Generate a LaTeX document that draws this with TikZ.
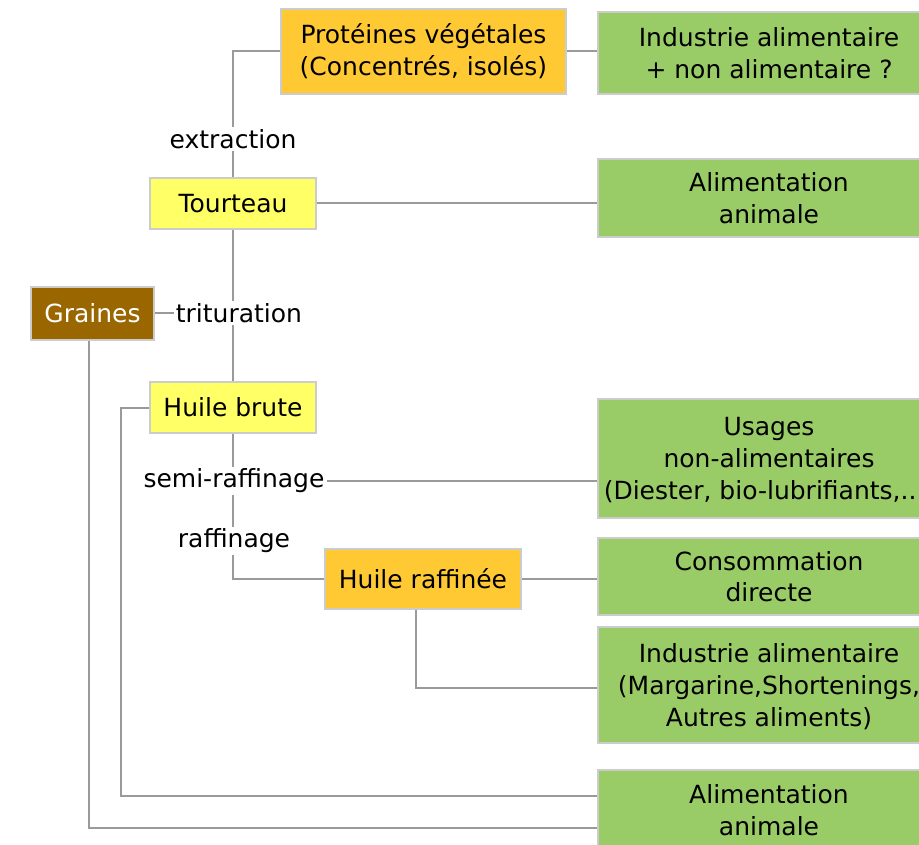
\documentclass[tikz,border=0pt]{standalone}
\usepackage{fontspec}
\setmainfont{DejaVu Sans}
\definecolor{vert}{HTML}{99CC66}
\definecolor{orange}{HTML}{FFC933}
\definecolor{jaune}{HTML}{FFFF66}
\definecolor{brun}{HTML}{996600}
\definecolor{bord}{HTML}{CCCCCC}
\definecolor{trait}{HTML}{9A9A9A}
\begin{document}
\begin{tikzpicture}[x=1pt,y=-1pt,
 boite/.style={draw=bord,line width=1.5pt,align=center,inner sep=0pt,font=\fontsize{25}{32}\selectfont},
 usage/.style={boite,fill=vert,minimum width=342,text depth=0pt},
 etape/.style={fill=white,inner sep=2pt,font=\fontsize{25}{32}\selectfont},
 lien/.style={draw=trait,line width=2pt}]
 \useasboundingbox (0,0) rectangle (919,845);
 \clip (0,0) rectangle (919,845);
 \node[boite,fill=orange,minimum width=285,minimum height=85] (prot) at (423.5,51.5) {Protéines végétales\\(Concentrés, isolés)};
 \node[boite,fill=jaune,minimum width=166,minimum height=51] (tourteau) at (233,203.5) {Tourteau};
 \node[boite,fill=brun,text=white,minimum width=123,minimum height=53] (graines) at (92.5,313.5) {Graines};
 \node[boite,fill=jaune,minimum width=166,minimum height=51] (brute) at (233,407.5) {Huile brute};
 \node[boite,fill=orange,minimum width=196,minimum height=60] (raff) at (423,579) {Huile raffinée};
 \node[usage,minimum height=82] (indus1) at (769,53) {Industrie alimentaire\\+ non alimentaire ?};
 \node[usage,minimum height=78] (alim1) at (769,198) {Alimentation\\animale};
 \node[usage,minimum height=119] (usages) at (769,458.5) {Usages\\non-alimentaires\\(Diester, bio-lubrifiants,...)};
 \node[usage,minimum height=77] (conso) at (769,576.5) {Consommation\\directe};
 \node[usage,minimum height=116] (indus2) at (769,685) {Industrie alimentaire\\(Margarine,Shortenings,\\Autres aliments)};
 \node[usage,minimum height=80] (alim2) at (769,810) {Alimentation\\animale};
 \node[etape] (extr) at (233,139) {extraction};
 \node[etape] (trit) at (239,313) {trituration};
 \node[etape] (semi) at (234,481) {semi-raffinage};
 \node[etape] (raffinage) at (234,541) {raffinage};
 \coordinate (c1) at (121,796);
 \coordinate (c2) at (89,828);
 \path[lien] (extr.north -| tourteau) |- (prot.west);
 \path[lien] (prot.east) -- (prot.east -| indus1.west);
 \path[lien] (tourteau.north) -- (tourteau.north |- extr.south);
 \path[lien] (tourteau.east) -- (tourteau.east -| alim1.west);
 \path[lien] (tourteau.south) -- (tourteau.south |- trit.north);
 \path[lien] (graines.east) -- (graines.east -| trit.west);
 \path[lien] (brute.north) -- (brute.north |- trit.south);
 \path[lien] (brute.south) -- (brute.south |- semi.north);
 \path[lien] (semi.east) -- (semi.east -| usages.west);
 \path[lien] (brute.south |- semi.south) -- (brute.south |- raffinage.north);
 \path[lien] (brute.south |- raffinage.south) |- (raff.west);
 \path[lien] (raff.east) -- (raff.east -| conso.west);
 \path[lien] ([xshift=-7pt]raff.south) |- ([yshift=-3pt]indus2.west);
 \path[lien] (brute.west) -| (c1) -- (c1 -| alim2.west);
 \path[lien] (graines.south -| c2) -- (c2) -- (c2 -| alim2.west);
\end{tikzpicture}
\end{document}
